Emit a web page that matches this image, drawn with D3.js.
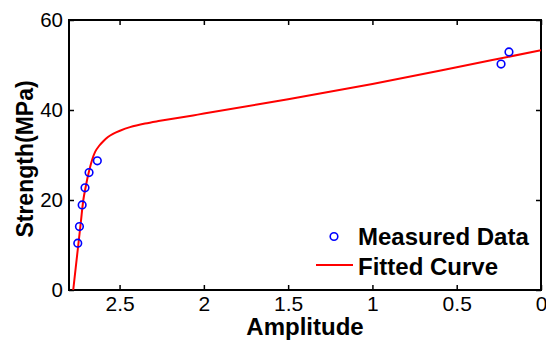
<!DOCTYPE html>
<html><head><meta charset="utf-8">
<script src="https://cdn.jsdelivr.net/npm/d3@7"></script>
<style>body{margin:0;background:#fff}svg{display:block}text{font-family:Arial,"Liberation Sans",sans-serif}</style>
</head><body><svg id="c" width="546" height="341"></svg>
<script>
const xTicks = [2.5, 2, 1.5, 1, 0.5, 0];
const yTicks = [0, 20, 40, 60];
const measuredAmp = [2.748, 2.738, 2.722, 2.705, 2.681, 2.632, 0.237, 0.19];
const measuredStr = [10.4, 14.1, 18.9, 22.7, 26.1, 28.7, 50.2, 52.9];
const fitAmp = [2.775, 2.76, 2.745, 2.73, 2.715, 2.698, 2.683, 2.663, 2.645, 2.622, 2.598, 2.569, 2.539, 2.498, 2.438, 2.349, 2.26, 2.064, 2.0, 1.5, 1.0, 0.5, 0];
const fitStr = [0, 5, 10, 15, 20, 23.5, 26.1, 28.9, 30.7, 32.0, 33.0, 34.0, 34.7, 35.4, 36.2, 37.0, 37.6, 38.8, 39.2, 42.4, 45.8, 49.5, 53.3];

const svg = d3.select("#c");
const L = 69, R = 541, T = 20, B = 290;
const x = d3.scaleLinear().domain([2.8, 0]).range([L, R]);
const y = d3.scaleLinear().domain([0, 60]).range([B, T]);

const g = svg.append("g");
const ax = (gen, tx, ty) => g.append("g").attr("transform", `translate(${tx},${ty})`).call(gen);
const tl = 5;
const bx = ax(d3.axisBottom(x).tickValues(xTicks).tickSize(-tl).tickPadding(8).tickFormat(d3.format("")), 0, B);
ax(d3.axisTop(x).tickValues(xTicks).tickSize(-tl).tickFormat(""), 0, T);
const ly = ax(d3.axisLeft(y).tickValues(yTicks).tickSize(-tl).tickPadding(6).tickFormat(d3.format("")), L, 0);
ax(d3.axisRight(y).tickValues(yTicks).tickSize(-tl).tickFormat(""), R, 0);
g.selectAll(".domain").remove();
g.selectAll(".tick line").attr("stroke", "#000").attr("stroke-width", 1.5);
g.selectAll(".tick text").attr("fill", "#000").attr("font-family", "Arial, 'Liberation Sans', sans-serif");
bx.selectAll(".tick text").attr("font-size", 21).attr("dy", "0.62em");
ly.selectAll(".tick text").attr("font-size", 20.5);

svg.append("rect").attr("x", L).attr("y", T).attr("width", R - L).attr("height", B - T)
  .attr("fill", "none").attr("stroke", "#000").attr("stroke-width", 2);

const fit = fitAmp.map((a, i) => [a, fitStr[i]]);
svg.append("clipPath").attr("id", "clipArea").append("rect").attr("x", L).attr("y", T).attr("width", R - L).attr("height", B - T);
svg.append("path").datum(fit).attr("clip-path", "url(#clipArea)")
  .attr("d", d3.line().x(d => x(d[0])).y(d => y(d[1])).curve(d3.curveCatmullRom.alpha(0.5)))
  .attr("fill", "none").attr("stroke", "#ff0000").attr("stroke-width", 2);

const meas = measuredAmp.map((a, i) => [a, measuredStr[i]]);
svg.append("g").selectAll("circle").data(meas).join("circle")
  .attr("cx", d => x(d[0])).attr("cy", d => y(d[1])).attr("r", 3.8)
  .attr("fill", "none").attr("stroke", "#0000ff").attr("stroke-width", 1.6);

svg.append("text").attr("x", (L + R) / 2).attr("y", 335).attr("text-anchor", "middle")
  .attr("font-size", 24).attr("font-weight", "bold").text("Amplitude");
svg.append("text").attr("transform", `translate(33,159) rotate(-90)`).attr("text-anchor", "middle")
  .attr("font-size", 23).attr("font-weight", "bold").text("Strength(MPa)");

const lg = svg.append("g");
lg.append("circle").attr("cx", 334).attr("cy", 236.5).attr("r", 3.8).attr("fill", "none").attr("stroke", "#0000ff").attr("stroke-width", 1.6);
lg.append("text").attr("x", 358).attr("y", 245).attr("font-size", 24).attr("font-weight", "bold").text("Measured Data");
lg.append("line").attr("x1", 316).attr("x2", 353).attr("y1", 265).attr("y2", 265).attr("stroke", "#ff0000").attr("stroke-width", 2);
lg.append("text").attr("x", 358).attr("y", 275).attr("font-size", 24).attr("font-weight", "bold").text("Fitted Curve");
</script></body></html>
